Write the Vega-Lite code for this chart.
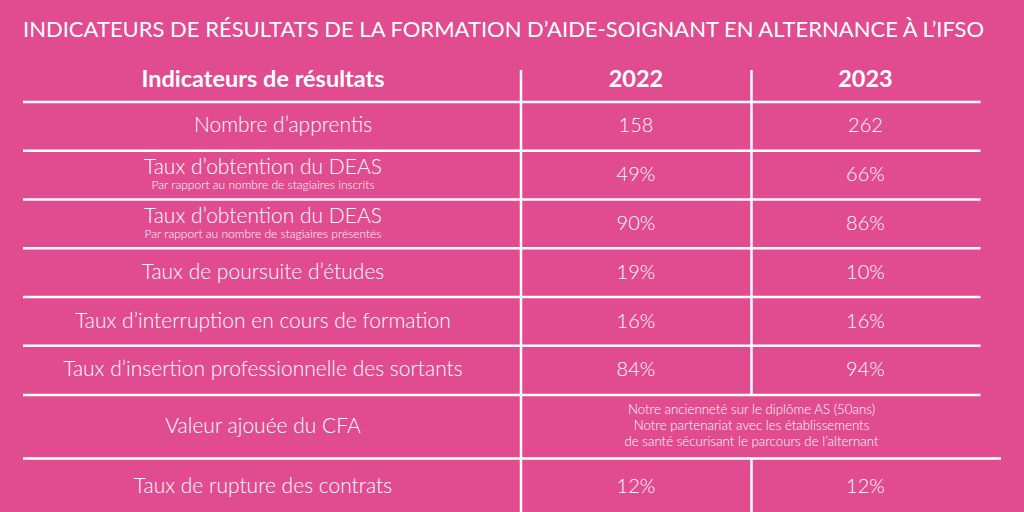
{
  "$schema": "https://vega.github.io/schema/vega-lite/v6.json",
  "width": 1024,
  "height": 512,
  "padding": 0,
  "autosize": {"type": "none"},
  "background": "#E14B8F",
  "config": {"view": {"stroke": null}, "text": {"font": "Lato", "color": "#FFFFFF"}},
  "datasets": {
    "titre": [{"rang": -1, "colonne": -0.5, "texte": "INDICATEURS DE RÉSULTATS DE LA FORMATION D’AIDE-SOIGNANT EN ALTERNANCE À L’IFSO"}],
    "entetes": [
      {"rang": 0, "colonne": 0, "texte": "Indicateurs de résultats"},
      {"rang": 0, "colonne": 1, "texte": "2022"},
      {"rang": 0, "colonne": 2, "texte": "2023"}
    ],
    "indicateurs": [
      {"rang": 1, "colonne": 0, "indicateur": "Nombre d’apprentis", "precision": ""},
      {"rang": 2, "colonne": 0, "indicateur": "Taux d’obtention du DEAS", "precision": "Par rapport au nombre de stagiaires inscrits"},
      {"rang": 3, "colonne": 0, "indicateur": "Taux d’obtention du DEAS", "precision": "Par rapport au nombre de stagiaires présentés"},
      {"rang": 4, "colonne": 0, "indicateur": "Taux de poursuite d’études", "precision": ""},
      {"rang": 5, "colonne": 0, "indicateur": "Taux d’interruption en cours de formation", "precision": ""},
      {"rang": 6, "colonne": 0, "indicateur": "Taux d’insertion professionnelle des sortants", "precision": ""},
      {"rang": 7, "colonne": 0, "indicateur": "Valeur ajouée du CFA", "precision": ""},
      {"rang": 8, "colonne": 0, "indicateur": "Taux de rupture des contrats", "precision": ""}
    ],
    "valeurs": [
      {"rang": 1, "colonne": 1, "valeur": "158"}, {"rang": 1, "colonne": 2, "valeur": "262"},
      {"rang": 2, "colonne": 1, "valeur": "49%"}, {"rang": 2, "colonne": 2, "valeur": "66%"},
      {"rang": 3, "colonne": 1, "valeur": "90%"}, {"rang": 3, "colonne": 2, "valeur": "86%"},
      {"rang": 4, "colonne": 1, "valeur": "19%"}, {"rang": 4, "colonne": 2, "valeur": "10%"},
      {"rang": 5, "colonne": 1, "valeur": "16%"}, {"rang": 5, "colonne": 2, "valeur": "16%"},
      {"rang": 6, "colonne": 1, "valeur": "84%"}, {"rang": 6, "colonne": 2, "valeur": "94%"},
      {"rang": 8, "colonne": 1, "valeur": "12%"}, {"rang": 8, "colonne": 2, "valeur": "12%"}
    ],
    "cfa": [{"rang": 7, "colonne": 1.5, "texte": "Notre ancienneté sur le diplôme AS (50ans)\nNotre partenariat avec les établissements\nde santé sécurisant le parcours de l’alternant"}],
    "filets_h": [
      {"rang": 0.5, "debut": -0.5, "fin": 2.5},
      {"rang": 1.5, "debut": -0.5, "fin": 2.5},
      {"rang": 2.5, "debut": -0.5, "fin": 2.5},
      {"rang": 3.5, "debut": -0.5, "fin": 2.5},
      {"rang": 4.5, "debut": -0.5, "fin": 2.5},
      {"rang": 5.5, "debut": -0.5, "fin": 2.5},
      {"rang": 6.5, "debut": -0.5, "fin": 2.5},
      {"rang": 7.5, "debut": -0.5, "fin": 3}
    ],
    "filets_v": [
      {"colonne": 0.5, "haut": -0.2, "bas": 8.5},
      {"colonne": 1.5, "haut": -0.2, "bas": 6.5},
      {"colonne": 1.5, "haut": 7.5, "bas": 8.5}
    ]
  },
  "layer": [
    {
      "data": {"name": "filets_h"},
      "mark": {"type": "rule", "color": "#FFFFFF", "strokeWidth": 2.5},
      "encoding": {
        "x": {"field": "debut", "type": "quantitative", "axis": null, "scale": {"domain": [-0.5, 0, 0.5, 1, 1.5, 2, 2.5, 3], "range": [23, 263, 521, 636, 751.5, 865.5, 980.5, 1001], "zero": false, "nice": false}},
        "x2": {"field": "fin"},
        "y": {"field": "rang", "type": "quantitative", "axis": null, "scale": {"domain": [-1, 0, 0.5, 1, 1.5, 2, 2.5, 3, 3.5, 4, 4.5, 5, 5.5, 6, 6.5, 7, 7.5, 8, 8.5], "range": [30, 80, 102, 126, 150.8, 175, 199.5, 224, 248.3, 272.5, 297, 321.5, 345.7, 370, 395, 427, 458.5, 487, 512], "zero": false, "nice": false}}
      }
    },
    {
      "data": {"name": "filets_v"},
      "mark": {"type": "rule", "color": "#FFFFFF", "strokeWidth": 2.5},
      "encoding": {
        "x": {"field": "colonne", "type": "quantitative", "axis": null, "scale": {"domain": [-0.5, 0, 0.5, 1, 1.5, 2, 2.5, 3], "range": [23, 263, 521, 636, 751.5, 865.5, 980.5, 1001], "zero": false, "nice": false}},
        "y": {"field": "haut", "type": "quantitative", "axis": null, "scale": {"domain": [-1, 0, 0.5, 1, 1.5, 2, 2.5, 3, 3.5, 4, 4.5, 5, 5.5, 6, 6.5, 7, 7.5, 8, 8.5], "range": [30, 80, 102, 126, 150.8, 175, 199.5, 224, 248.3, 272.5, 297, 321.5, 345.7, 370, 395, 427, 458.5, 487, 512], "zero": false, "nice": false}},
        "y2": {"field": "bas"}
      }
    },
    {
      "data": {"name": "titre"},
      "mark": {"type": "text", "align": "left", "baseline": "middle", "fontSize": 22},
      "encoding": {
        "x": {"field": "colonne", "type": "quantitative", "axis": null},
        "y": {"field": "rang", "type": "quantitative", "axis": null},
        "text": {"field": "texte"}
      }
    },
    {
      "data": {"name": "entetes"},
      "mark": {"type": "text", "align": "center", "baseline": "middle", "fontSize": 23.5, "fontWeight": "bold"},
      "encoding": {
        "x": {"field": "colonne", "type": "quantitative", "axis": null},
        "y": {"field": "rang", "type": "quantitative", "axis": null},
        "text": {"field": "texte"}
      }
    },
    {
      "data": {"name": "indicateurs"},
      "transform": [{"filter": "datum.precision == '' && datum.rang != 1"}],
      "mark": {"type": "text", "align": "center", "baseline": "middle", "fontSize": 21, "fontWeight": 300},
      "encoding": {
        "x": {"field": "colonne", "type": "quantitative", "axis": null},
        "y": {"field": "rang", "type": "quantitative", "axis": null},
        "text": {"field": "indicateur"}
      }
    },
    {
      "data": {"name": "indicateurs"},
      "transform": [{"filter": "datum.rang == 1"}],
      "mark": {"type": "text", "align": "center", "baseline": "middle", "fontSize": 21, "fontWeight": 300, "dx": 20},
      "encoding": {
        "x": {"field": "colonne", "type": "quantitative", "axis": null},
        "y": {"field": "rang", "type": "quantitative", "axis": null},
        "text": {"field": "indicateur"}
      }
    },
    {
      "data": {"name": "indicateurs"},
      "transform": [{"filter": "datum.precision != ''"}],
      "mark": {"type": "text", "align": "center", "baseline": "middle", "fontSize": 21, "fontWeight": 300, "dy": -7},
      "encoding": {
        "x": {"field": "colonne", "type": "quantitative", "axis": null},
        "y": {"field": "rang", "type": "quantitative", "axis": null},
        "text": {"field": "indicateur"}
      }
    },
    {
      "data": {"name": "indicateurs"},
      "transform": [{"filter": "datum.precision != ''"}],
      "mark": {"type": "text", "align": "center", "baseline": "middle", "fontSize": 12, "fontWeight": 300, "dy": 9.5},
      "encoding": {
        "x": {"field": "colonne", "type": "quantitative", "axis": null},
        "y": {"field": "rang", "type": "quantitative", "axis": null},
        "text": {"field": "precision"}
      }
    },
    {
      "data": {"name": "valeurs"},
      "mark": {"type": "text", "align": "center", "baseline": "middle", "fontSize": 20, "fontWeight": 300},
      "encoding": {
        "x": {"field": "colonne", "type": "quantitative", "axis": null},
        "y": {"field": "rang", "type": "quantitative", "axis": null},
        "text": {"field": "valeur"}
      }
    },
    {
      "data": {"name": "cfa"},
      "mark": {"type": "text", "align": "center", "baseline": "middle", "fontSize": 13.3, "fontWeight": 300, "lineBreak": "\n", "lineHeight": 16, "dy": -17},
      "encoding": {
        "x": {"field": "colonne", "type": "quantitative", "axis": null},
        "y": {"field": "rang", "type": "quantitative", "axis": null},
        "text": {"field": "texte"}
      }
    }
  ]
}
